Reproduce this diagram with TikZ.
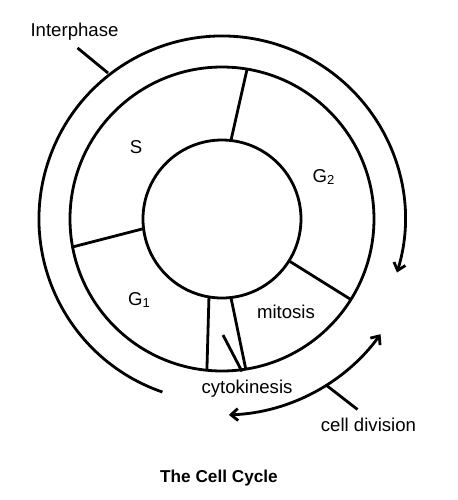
\documentclass[tikz,border=0pt]{standalone}
\usepackage{fontspec}
\setmainfont{Liberation Sans}
\usetikzlibrary{arrows.meta}

\begin{document}
\begin{tikzpicture}[x=0.5pt, y=0.5pt, line width=1.4pt,
  lbl/.style={font=\fontsize{9.3}{11}\selectfont, anchor=base},
  tip/.style={-{Straight Barb[length=3.5pt,width=6pt]}},
  tips/.style={{Straight Barb[length=3.5pt,width=6pt]}-{Straight Barb[length=3.5pt,width=6pt]}}]
  \useasboundingbox (-222,-281) rectangle (236,219);

  % Rings
  \draw (0,0) circle [radius=79];
  \draw (0,0) circle [radius=152];

  % Phase borders
  \draw (83.5:79) -- (80.5:152);   % S | G2
  \draw (187:79) -- (190.6:152);   % S | G1
  \draw (-32:80) -- (-32:152);     % G2 | mitosis
  \draw (-83.5:79) -- (-81:152);   % mitosis | cytokinesis
  \draw (-99.5:79) -- (-95.7:152); % cytokinesis | G1

  % Interphase and cell division arcs
  \draw[tip] (251:183) arc[start angle=251, end angle=-17, radius=183];
  \draw[tips] (-88:196) arc[start angle=-88, end angle=-36, radius=196];

  % Labels
  \node[lbl] (s) at (-86,66) {S};
  \node[lbl] (gtwo) at (102,37) {G\textsubscript{2}};
  \node[lbl] (gone) at (-82.5,-86) {G\textsubscript{1}};
  \node[lbl] (mitosis) at (64,-99) {mitosis};
  \node[lbl] (cyto) at (25,-174) {cytokinesis};
  \node[lbl] (interphase) at (-147.5,183) {Interphase};
  \node[lbl] (celldiv) at (146.5,-212) {cell division};
  \node[lbl, font=\bfseries\fontsize{8.6}{10}\selectfont] (title) at (-3,-263) {The Cell Cycle};

  % Pointers
  \coordinate (inter-end) at (-114,146);
  \coordinate (div-end) at (104,-166);
  \coordinate (cyto-end) at (1,-116);
  \draw ([xshift=1.5pt]interphase.south) -- (inter-end);
  \draw ([xshift=-5.5pt]celldiv.north) -- (div-end);
  \draw ([xshift=-2.5pt]cyto.north) -- (cyto-end);
\end{tikzpicture}
\end{document}
